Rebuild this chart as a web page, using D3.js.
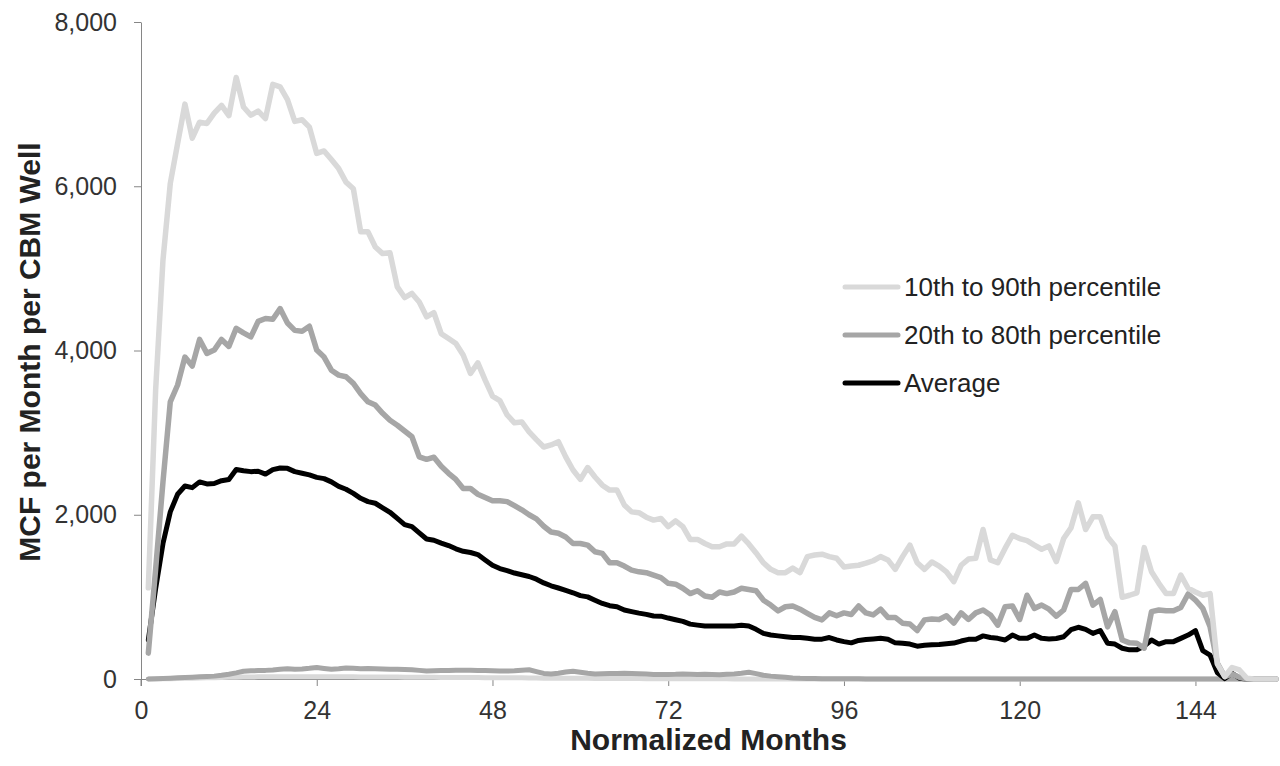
<!DOCTYPE html>
<html>
<head>
<meta charset="utf-8">
<script src="https://cdn.jsdelivr.net/npm/d3@7"></script>
<style>
    body { margin: 0; background: #fff; }
    .chart text { font-family: Arial, "Liberation Sans", sans-serif; }
</style>
</head>
<body>
<div class="chart"></div>
<script>
// normalized months 1..155
var months = d3.range(1, 156);

var p90 = [1110, 3520, 5100, 6035, 6520, 7000, 6585, 6780, 6765, 6890,
    6985, 6860, 7325, 6965, 6865, 6915, 6825, 7240, 7210, 7055,
    6790, 6810, 6720, 6400, 6430, 6325, 6215, 6050, 5970, 5445,
    5445, 5260, 5180, 5190, 4775, 4645, 4695, 4590, 4410, 4460,
    4205, 4145, 4085, 3945, 3720, 3850, 3640, 3445, 3390, 3215,
    3120, 3130, 3010, 2915, 2825, 2850, 2890, 2705, 2545, 2430,
    2575, 2460, 2360, 2300, 2300, 2120, 2035, 2025, 1970, 1935,
    1955, 1855, 1925, 1855, 1700, 1700, 1650, 1610, 1610, 1645,
    1645, 1740, 1645, 1535, 1415, 1335, 1295, 1295, 1350, 1295,
    1490, 1510, 1520, 1490, 1470, 1365, 1375, 1385, 1410, 1440,
    1490, 1450, 1335, 1490, 1630, 1415, 1335, 1425, 1375, 1305,
    1185, 1385, 1460, 1470, 1820, 1450, 1415, 1590, 1750, 1710,
    1685, 1630, 1580, 1620, 1430, 1710, 1840, 2145, 1820, 1975,
    1975, 1730, 1620, 995, 1020, 1050, 1600, 1305, 1165, 1040,
    1040, 1265, 1105, 1060, 1020, 1040, 180, 30, 140, 110,
    10, 0, 0, 0, 0];

var p80 = [315, 1340, 2400, 3375, 3580, 3920, 3810, 4135, 3965, 4005,
    4135, 4050, 4270, 4215, 4165, 4355, 4390, 4380, 4510, 4335,
    4245, 4235, 4295, 4005, 3920, 3760, 3700, 3680, 3600, 3475,
    3375, 3335, 3235, 3150, 3090, 3020, 2950, 2705, 2675, 2700,
    2590, 2505, 2430, 2320, 2320, 2250, 2210, 2170, 2170, 2160,
    2110, 2060, 2000, 1950, 1860, 1790, 1775, 1730, 1650, 1650,
    1630, 1550, 1530, 1415, 1415, 1375, 1325, 1305, 1295, 1265,
    1235, 1165, 1155, 1105, 1040, 1075, 1010, 995, 1060, 1040,
    1060, 1105, 1090, 1075, 960, 900, 830, 880, 890, 850,
    800, 750, 720, 805, 770, 805, 785, 890, 805, 780,
    850, 750, 750, 680, 670, 590, 720, 730, 725, 770,
    680, 805, 725, 805, 840, 780, 655, 880, 890, 725,
    1020, 860, 900, 850, 765, 840, 1090, 1090, 1165, 900,
    970, 635, 820, 475, 440, 435, 375, 820, 840, 830,
    830, 870, 1035, 960, 860, 635, 190, 30, 60, 20,
    0, 0, 0, 0, 0];

var average = [475, 1100, 1650, 2035, 2250, 2350, 2330, 2400, 2375, 2380,
    2415, 2430, 2550, 2535, 2525, 2530, 2495, 2550, 2570, 2565,
    2525, 2505, 2485, 2455, 2440, 2400, 2345, 2310, 2260, 2200,
    2160, 2140, 2085, 2030, 1955, 1880, 1855, 1780, 1705, 1690,
    1655, 1625, 1585, 1555, 1540, 1515, 1450, 1385, 1345, 1320,
    1290, 1270, 1248, 1215, 1170, 1135, 1108, 1080, 1050, 1015,
    1000, 960, 920, 893, 880, 840, 820, 802, 787, 767,
    765, 742, 722, 702, 668, 656, 646, 645, 645, 645,
    645, 655, 645, 605, 555, 535, 525, 515, 505, 505,
    495, 485, 485, 505, 475, 455, 440, 470, 482, 488,
    495, 485, 440, 436, 425, 400, 412, 418, 420, 428,
    437, 462, 483, 485, 525, 505, 495, 475, 535, 495,
    495, 535, 495, 488, 493, 515, 600, 630, 605, 555,
    590, 435, 425, 375, 355, 355, 400, 475, 425, 455,
    455, 495, 535, 590, 345, 290, 75, 5, 70, 10,
    0, 0, 0, 0, 0];

var p20 = [0, 3, 6, 10, 14, 18, 22, 26, 30, 35,
    45, 58, 75, 95, 100, 102, 105, 110, 118, 125,
    120, 122, 130, 140, 128, 118, 125, 135, 130, 125,
    128, 125, 122, 120, 118, 115, 112, 105, 98, 100,
    102, 104, 106, 108, 106, 104, 102, 100, 98, 97,
    100, 106, 112, 90, 68, 62, 70, 85, 95, 82,
    70, 62, 64, 66, 68, 70, 68, 64, 60, 56,
    54, 56, 58, 62, 58, 55, 58, 55, 52, 58,
    62, 70, 82, 65, 45, 35, 28, 20, 12, 8,
    6, 5, 4, 3, 3, 2, 2, 2, 1, 1,
    1, 1, 0, 0, 0, 0, 0, 0, 0, 0,
    0, 0, 0, 0, 0, 0, 0, 0, 0, 0,
    0, 0, 0, 0, 0, 0, 0, 0, 0, 0,
    0, 0, 0, 0, 0, 0, 0, 0, 0, 0,
    0, 0, 0, 0, 0, 0, 0, 0, 0, 0,
    0, 0, 0, 0, 0];

var p10 = [0, 1, 2, 4, 6, 8, 10, 12, 14, 16,
    18, 20, 22, 24, 25, 26, 27, 28, 28, 28,
    28, 28, 28, 28, 28, 27, 27, 26, 26, 25,
    25, 24, 24, 23, 23, 22, 22, 21, 20, 20,
    19, 19, 18, 18, 17, 17, 16, 16, 15, 15,
    14, 14, 13, 12, 10, 9, 9, 9, 9, 8,
    8, 7, 7, 6, 6, 5, 5, 5, 4, 4,
    4, 3, 3, 3, 3, 2, 2, 2, 2, 2,
    1, 1, 1, 1, 1, 0, 0, 0, 0, 0,
    0, 0, 0, 0, 0, 0, 0, 0, 0, 0,
    0, 0, 0, 0, 0, 0, 0, 0, 0, 0,
    0, 0, 0, 0, 0, 0, 0, 0, 0, 0,
    0, 0, 0, 0, 0, 0, 0, 0, 0, 0,
    0, 0, 0, 0, 0, 0, 0, 0, 0, 0,
    0, 0, 0, 0, 0, 0, 0, 0, 0, 0,
    0, 0, 0, 0, 0];

var xTicks = [0, 24, 48, 72, 96, 120, 144];
var yTicks = [0, 2000, 4000, 6000, 8000];

var legendLabels = ["10th to 90th percentile", "20th to 80th percentile", "Average"];

var lightGray = "#d9d9d9";
var midGray = "#a6a6a6";
var axisColor = "#868686";

var svgWidth = 1280;
var svgHeight = 766;

var margin = { top: 22, right: 4, bottom: 87, left: 141 };
var width = svgWidth - margin.left - margin.right;
var height = svgHeight - margin.top - margin.bottom;

var svg = d3.select(".chart")
    .append("svg")
    .attr("width", svgWidth)
    .attr("height", svgHeight);

var chartGroup = svg.append("g")
    .attr("transform", `translate(${margin.left}, ${margin.top})`);

var xLinearScale = d3.scaleLinear()
    .domain([0, 155])
    .range([0, width]);

var yLinearScale = d3.scaleLinear()
    .domain([0, 8000])
    .range([height, 0]);

var bottomAxis = d3.axisBottom(xLinearScale)
    .tickValues(xTicks)
    .tickSize(7)
    .tickSizeOuter(0)
    .tickPadding(15);

var leftAxis = d3.axisLeft(yLinearScale)
    .tickValues(yTicks)
    .tickFormat(d3.format(","))
    .tickSize(7)
    .tickSizeOuter(0)
    .tickPadding(17);

var xAxis = chartGroup.append("g")
    .attr("transform", `translate(0, ${height})`)
    .call(bottomAxis);

var yAxis = chartGroup.append("g")
    .call(leftAxis);

[xAxis, yAxis].forEach(function (ax) {
    ax.selectAll("path, line").attr("stroke", axisColor);
    ax.selectAll("text")
        .attr("fill", "#333")
        .style("font-size", "25px");
});

// extend the y axis line down through the x tick row
chartGroup.append("line")
    .attr("x1", 0)
    .attr("x2", 0)
    .attr("y1", height)
    .attr("y2", height + 7)
    .attr("stroke", axisColor);

// series drawn bottom to top like the original
var series = [
    { values: p10, color: lightGray, width: 5 },
    { values: p20, color: midGray, width: 5 },
    { values: average, color: "#000", width: 5 },
    { values: p80, color: midGray, width: 5.5 },
    { values: p90, color: lightGray, width: 5.5 }
];

var lineGen = d3.line()
    .x((d, i) => xLinearScale(months[i]))
    .y(d => yLinearScale(d));

series.forEach(function (s) {
    chartGroup.append("path")
        .datum(s.values)
        .attr("fill", "none")
        .attr("stroke", s.color)
        .attr("stroke-width", s.width)
        .attr("stroke-linejoin", "round")
        .attr("stroke-linecap", "round")
        .attr("d", lineGen);
});

// legend
var legendColors = [lightGray, midGray, "#000"];
var legendGroup = svg.append("g")
    .attr("transform", "translate(845, 287)");

legendLabels.forEach(function (label, i) {
    var row = legendGroup.append("g")
        .attr("transform", `translate(0, ${i * 48})`);
    row.append("line")
        .attr("x1", 0)
        .attr("x2", 53)
        .attr("stroke", legendColors[i])
        .attr("stroke-width", 5)
        .attr("stroke-linecap", "round");
    row.append("text")
        .attr("x", 59)
        .attr("dy", "0.35em")
        .attr("fill", "#222")
        .style("font-size", "26px")
        .text(label);
});

// axis titles
svg.append("text")
    .attr("x", margin.left + width / 2)
    .attr("y", 750)
    .attr("text-anchor", "middle")
    .attr("fill", "#222")
    .style("font-size", "30px")
    .style("font-weight", "bold")
    .text("Normalized Months");

svg.append("text")
    .attr("transform", "translate(40, 352) rotate(-90)")
    .attr("text-anchor", "middle")
    .attr("fill", "#222")
    .style("font-size", "30px")
    .style("font-weight", "bold")
    .text("MCF per Month per CBM Well");
</script>
</body>
</html>
